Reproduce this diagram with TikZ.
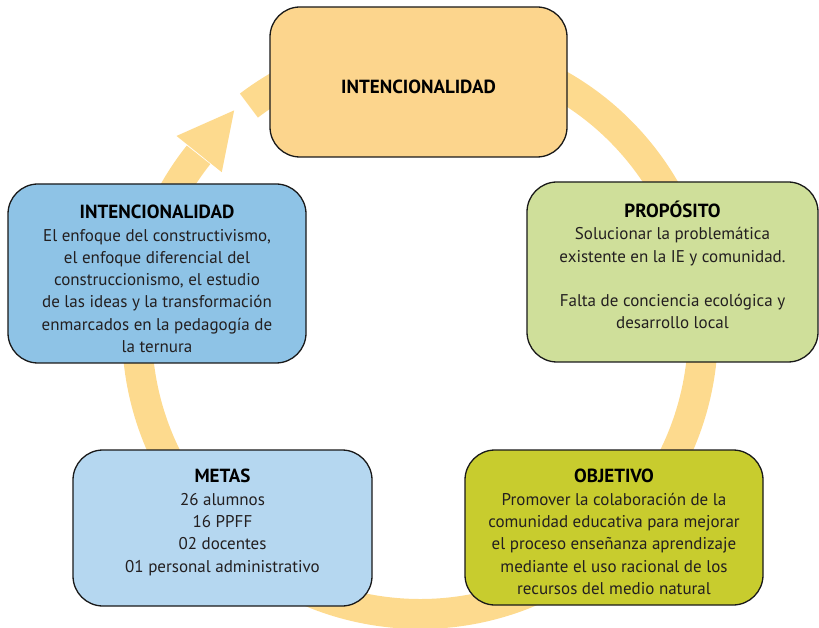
\documentclass[tikz,border=0pt]{standalone}
\usepackage{fontspec}
\setmainfont{PT Sans}
\usetikzlibrary{calc}
\definecolor{ringc}{HTML}{FDDA8E}
\definecolor{topc}{HTML}{FCD58D}
\definecolor{bluec}{HTML}{8EC3E6}
\definecolor{lbluec}{HTML}{B5D7F0}
\definecolor{lgreenc}{HTML}{CFDF9A}
\definecolor{olivec}{HTML}{C8CC2E}
\definecolor{txtc}{HTML}{231F20}
\newcommand{\ttlfont}{\fontsize{19}{22.3}\selectfont\bfseries\color{black}}
\begin{document}
\begin{tikzpicture}[x=1pt,y=1pt,
  box/.style={draw=black!90, line width=1.3pt, rounded corners=30pt, inner sep=0pt},
  txt/.style={align=center, font=\fontsize{17}{22.3}\selectfont, text=txtc, inner sep=0pt}
  ]
\useasboundingbox (0,0) rectangle (819,627);
% ring with arrow
\coordinate (C) at (420,296);
\draw[ringc, line width=30pt] ($(C)+(127.2:283)$) arc[start angle=127.2, end angle=-218.5, radius=283];
\coordinate (B) at ($(C)+(141.3:283)$);
\fill[ringc] ($(B)+(141.3:29)$) -- ($(B)+(51.3:56)$) -- ($(B)+(-38.7:29)$) -- cycle;
% boxes
\node[box, fill=topc, minimum width=297pt, minimum height=150pt] (top) at (418.5,545) {};
\node[box, fill=bluec, minimum width=298pt, minimum height=179pt] (left) at (157,353.5) {};
\node[box, fill=lgreenc, minimum width=291pt, minimum height=180pt] (right) at (672.5,355) {};
\node[box, fill=lbluec, minimum width=299pt, minimum height=156pt] (metas) at (222.5,99) {};
\node[box, fill=olivec, minimum width=298pt, minimum height=155pt] (obj) at (614,99.5) {};
% texts
\node[txt] (topt) at ($(top)+(0,-5)$) {{\ttlfont INTENCIONALIDAD}};
\node[txt] (leftt) at ($(left)+(0,-5.5)$) {{\ttlfont INTENCIONALIDAD}\\
El enfoque del constructivismo,\\
el enfoque diferencial del\\
construccionismo, el estudio\\
de las ideas y la transformación\\
enmarcados en la pedagogía de\\
la ternura};
\node[txt] (rightt) at ($(right)+(0,7)$) {{\ttlfont PROPÓSITO}\\
Solucionar la problemática\\
existente en la IE y comunidad.\\[22.3pt]
Falta de conciencia ecológica y\\
desarrollo local};
\node[txt] (metast) at ($(metas)+(0,5.5)$) {{\ttlfont METAS}\\
26 alumnos\\
16 PPFF\\
02 docentes\\
01 personal administrativo};
\node[txt] (objt) at ($(obj)+(0,-4.5)$) {{\ttlfont OBJETIVO}\\
Promover la colaboración de la\\
comunidad educativa para mejorar\\
el proceso enseñanza aprendizaje\\
mediante el uso racional de los\\
recursos del medio natural};
\end{tikzpicture}
\end{document}
